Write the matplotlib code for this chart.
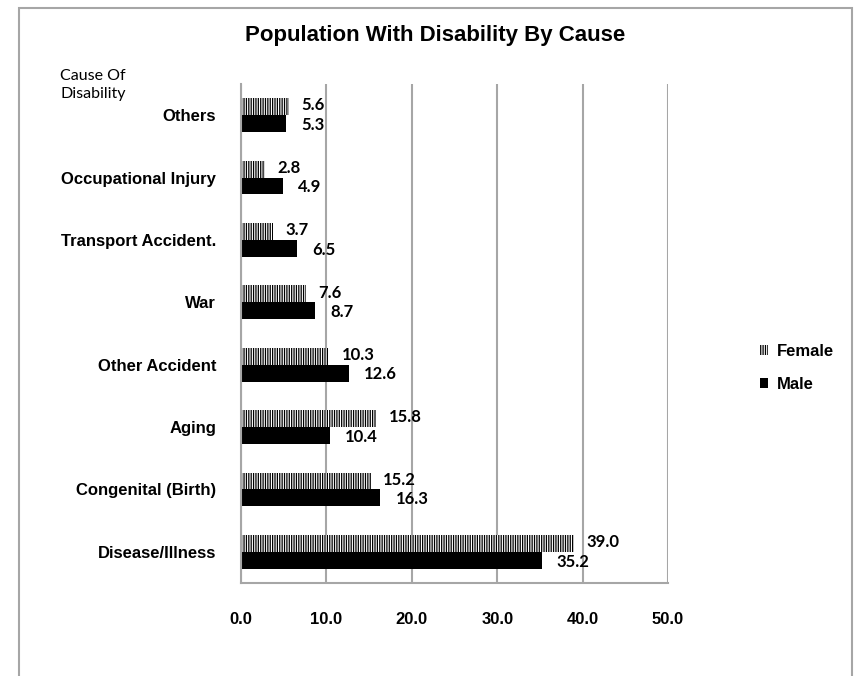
import matplotlib
matplotlib.use("Agg")
import matplotlib.pyplot as plt
import numpy as np
from matplotlib.patches import Rectangle

categories = ["Disease/Illness", "Congenital (Birth)", "Aging", "Other Accident",
              "War", "Transport Accident.", "Occupational Injury", "Others"]
female = [39.0, 15.2, 15.8, 10.3, 7.6, 3.7, 2.8, 5.6]
male = [35.2, 16.3, 10.4, 12.6, 8.7, 6.5, 4.9, 5.3]
x_ticks = [0, 10, 20, 30, 40, 50]

plt.rcParams['hatch.linewidth'] = 0.9
grid_col = "#a6a6a6"

fig = plt.figure(figsize=(8.59, 6.76), dpi=100)
W, H = 859, 676
ax = fig.add_axes([241 / W, 1 - 583 / H, (668 - 241) / W, (583 - 84) / H])

y = np.arange(len(categories))
bh = 0.27
bf = ax.barh(y + bh / 2, female, height=bh, color="white", edgecolor="black",
             hatch="|||||||", linewidth=0, label="Female")
bm = ax.barh(y - bh / 2, male, height=bh, color="black", edgecolor="black",
             linewidth=0, label="Male")

lab_font = dict(family="Lato", fontweight="bold", fontsize=12)
for yi, v in zip(y, female):
    ax.annotate(f"{v:.1f}", (v, yi + bh / 2), xytext=(9, 1), textcoords="offset points",
                va="center", ha="left", **lab_font)
for yi, v in zip(y, male):
    ax.annotate(f"{v:.1f}", (v, yi - bh / 2), xytext=(11, -1), textcoords="offset points",
                va="center", ha="left", **lab_font)

ax.set_xlim(0, 50)
ax.set_ylim(-0.5, len(categories) - 0.5)
ax.set_xticks(x_ticks)
ax.set_xticklabels([f"{t:.1f}" for t in x_ticks], family="Liberation Sans",
                   fontweight="bold", fontsize=12)
ax.set_yticks(y)
ax.set_yticklabels(categories, family="Liberation Sans", fontweight="bold", fontsize=12)
ax.tick_params(axis="x", length=0, pad=21)
ax.tick_params(axis="y", length=0, pad=18)
ax.xaxis.grid(True, color=grid_col, linewidth=1.5)
ax.set_axisbelow(True)
for s in ["top", "right"]:
    ax.spines[s].set_visible(False)
for s in ["left", "bottom"]:
    ax.spines[s].set_color(grid_col)
    ax.spines[s].set_linewidth(1.5)

fig.text(435 / W, 1 - 36 / H, "Population With Disability By Cause", ha="center",
         va="center", family="Liberation Sans", fontweight="bold", fontsize=16)
fig.text(60 / W, 1 - 85 / H, "Cause Of\nDisability", ha="left", va="center",
         multialignment="left", family="Lato", fontsize=11.5, linespacing=1.3)

leg = fig.legend(handles=[bf, bm], labels=["Female", "Male"], loc="center left",
                 bbox_to_anchor=(745 / W, 1 - 368 / H), frameon=False,
                 handlelength=0.5, handleheight=0.5, handletextpad=0.5,
                 labelspacing=1.1, prop=dict(family="Liberation Sans", weight="bold", size=12))

# outer chart frame
fig.patches.append(Rectangle((19 / W, -0.02), (852 - 19) / W, 1 - 8 / H + 0.02,
                             transform=fig.transFigure, fill=False,
                             edgecolor=grid_col, linewidth=1.5))

fig.savefig("out.png", dpi=100)
